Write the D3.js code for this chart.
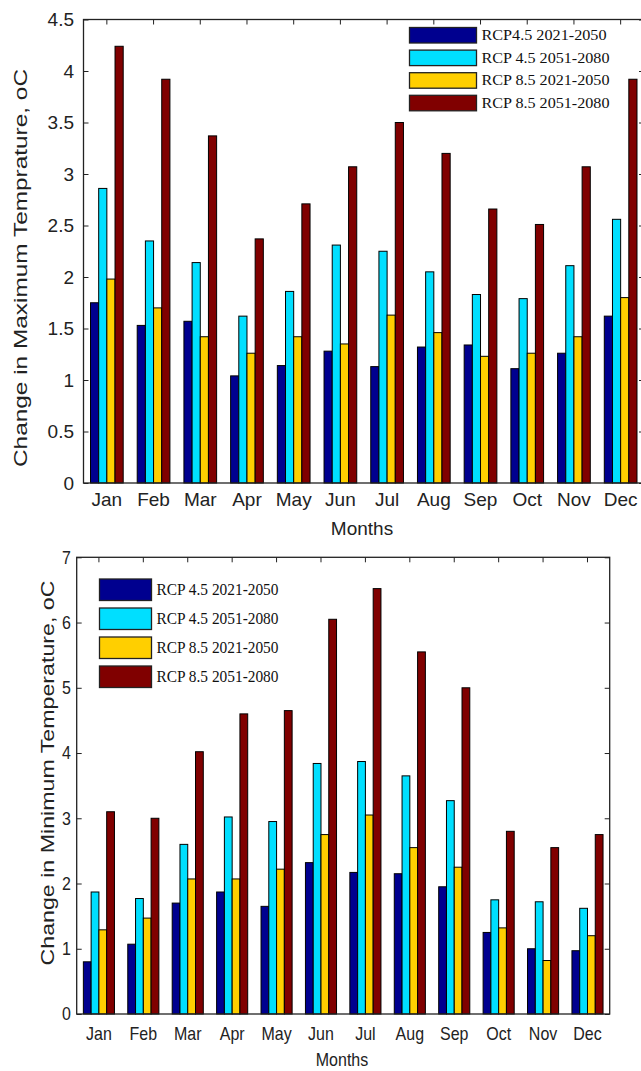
<!DOCTYPE html>
<html>
<head>
<meta charset="utf-8">
<script src="https://cdn.jsdelivr.net/npm/d3@7"></script>
<style>
  body { margin: 0; background: #fff; }
  svg { display: block; }
</style>
</head>
<body>
<div id="chart"></div>
<script>
// Month categories
var months = ["Jan", "Feb", "Mar", "Apr", "May", "Jun", "Jul", "Aug", "Sep", "Oct", "Nov", "Dec"];

// Legend labels (top panel spells the first one without a space)
var maxLegend = ["RCP4.5 2021-2050", "RCP 4.5 2051-2080", "RCP 8.5 2021-2050", "RCP 8.5 2051-2080"];
var minLegend = ["RCP 4.5 2021-2050", "RCP 4.5 2051-2080", "RCP 8.5 2021-2050", "RCP 8.5 2051-2080"];

// Change in maximum temperature (oC)
var maxRcp45Near = [1.75, 1.53, 1.57, 1.04, 1.14, 1.28, 1.13, 1.32, 1.34, 1.11, 1.26, 1.62];
var maxRcp45Far  = [2.86, 2.35, 2.14, 1.62, 1.86, 2.31, 2.25, 2.05, 1.83, 1.79, 2.11, 2.56];
var maxRcp85Near = [1.98, 1.70, 1.42, 1.26, 1.42, 1.35, 1.63, 1.46, 1.23, 1.26, 1.42, 1.80];
var maxRcp85Far  = [4.24, 3.92, 3.37, 2.37, 2.71, 3.07, 3.50, 3.20, 2.66, 2.51, 3.07, 3.92];

// Change in minimum temperature (oC)
var minRcp45Near = [0.80, 1.07, 1.70, 1.87, 1.65, 2.32, 2.17, 2.15, 1.95, 1.25, 1.00, 0.97];
var minRcp45Far  = [1.87, 1.77, 2.60, 3.02, 2.95, 3.84, 3.87, 3.65, 3.27, 1.75, 1.72, 1.62];
var minRcp85Near = [1.29, 1.47, 2.07, 2.07, 2.22, 2.75, 3.05, 2.55, 2.25, 1.32, 0.82, 1.20];
var minRcp85Far  = [3.10, 3.00, 4.02, 4.60, 4.65, 6.05, 6.52, 5.55, 5.00, 2.80, 2.55, 2.75];

// Tick values
var maxTicks = [0, 0.5, 1, 1.5, 2, 2.5, 3, 3.5, 4, 4.5];
var minTicks = [0, 1, 2, 3, 4, 5, 6, 7];

// MATLAB jet style colours for the four series
var colors = ["#00008f", "#00dfff", "#ffcf00", "#800000"];

var svg = d3.select("#chart")
  .append("svg")
  .attr("width", 641)
  .attr("height", 1071);

function drawPanel(p) {
  var g = svg.append("g");

  var xScale = d3.scaleBand().domain(months).range([p.left, p.right]);
  var yScale = d3.scaleLinear().domain([0, p.yMax]).range([p.bottom, p.top]);
  var groupWidth = xScale.bandwidth() * 0.7;
  var inner = d3.scaleBand()
    .domain(d3.range(p.series.length))
    .range([-groupWidth / 2, groupWidth / 2]);

  // Inward ticks on all four sides (drawn under the bars)
  g.append("g")
    .attr("transform", "translate(" + p.left + ",0)")
    .call(d3.axisLeft(yScale).tickValues(p.ticks).tickSizeInner(-5).tickSizeOuter(0)
      .tickPadding(p.yPad).tickFormat(function(d) { return String(d); }))
    .call(function(a) {
      a.select(".domain").remove();
      a.selectAll("line").attr("stroke", "#222");
      a.selectAll("text")
        .attr("font-family", "Liberation Sans, Arial, sans-serif")
        .attr("font-size", p.tickFont)
        .attr("fill", "#222")
        .attr("transform", "scale(1," + p.stretch + ")");
    });

  g.append("g")
    .attr("transform", "translate(" + p.right + ",0)")
    .call(d3.axisRight(yScale).tickValues(p.ticks).tickSizeInner(-5).tickSizeOuter(0)
      .tickFormat(""))
    .call(function(a) {
      a.select(".domain").remove();
      a.selectAll("line").attr("stroke", "#222");
    });

  g.append("g")
    .attr("transform", "translate(0," + p.top + ")")
    .call(d3.axisTop(xScale).tickSizeInner(-5).tickSizeOuter(0).tickFormat(""))
    .call(function(a) {
      a.select(".domain").remove();
      a.selectAll("line").attr("stroke", "#222");
    });

  g.append("g")
    .attr("transform", "translate(0," + p.bottom + ")")
    .call(d3.axisBottom(xScale).tickSizeInner(-5).tickSizeOuter(0).tickPadding(p.xPad))
    .call(function(a) {
      a.select(".domain").remove();
      a.selectAll("line").attr("stroke", "#222");
      a.selectAll("text")
        .attr("font-family", "Liberation Sans, Arial, sans-serif")
        .attr("font-size", p.tickFont)
        .attr("fill", "#222")
        .attr("transform", "scale(1," + p.stretch + ")");
    });

  // Bars
  p.series.forEach(function(values, s) {
    g.append("g")
      .selectAll("rect")
      .data(values)
      .enter()
      .append("rect")
      .attr("x", function(d, i) { return xScale(months[i]) + xScale.bandwidth() / 2 + inner(s); })
      .attr("y", function(d) { return yScale(d); })
      .attr("width", inner.bandwidth())
      .attr("height", function(d) { return yScale(0) - yScale(d); })
      .attr("fill", colors[s])
      .attr("stroke", "#000")
      .attr("stroke-width", 1);
  });

  // Box
  g.append("rect")
    .attr("x", p.left)
    .attr("y", p.top)
    .attr("width", p.right - p.left)
    .attr("height", p.bottom - p.top)
    .attr("fill", "none")
    .attr("stroke", "#222")
    .attr("stroke-width", 1.3);

  // Legend
  var legend = g.append("g");
  p.legend.forEach(function(name, i) {
    var ly = p.legTop + i * p.legStep;
    legend.append("rect")
      .attr("x", p.legX)
      .attr("y", ly)
      .attr("width", p.swW)
      .attr("height", p.swH)
      .attr("fill", colors[i])
      .attr("stroke", "#222")
      .attr("stroke-width", 1.3);
    legend.append("text")
      .attr("x", p.legX + p.swW + 5)
      .attr("y", ly + p.swH / 2)
      .attr("dy", "0.35em")
      .attr("font-family", "Liberation Serif, Times New Roman, serif")
      .attr("font-size", p.legFont)
      .attr("textLength", p.legLen[i])
      .attr("lengthAdjust", "spacingAndGlyphs")
      .attr("fill", "#111")
      .text(name);
  });

  // Axis titles
  g.append("text")
    .attr("transform", "translate(" + p.monthsX + "," + p.monthsY + ") scale(1," + p.stretch + ")")
    .attr("text-anchor", "middle")
    .attr("font-family", "Liberation Sans, Arial, sans-serif")
    .attr("font-size", p.tickFont)
    .attr("fill", "#222")
    .text("Months");

  g.append("text")
    .attr("transform", "translate(" + p.yLabX + "," + p.yLabY + ")rotate(-90)")
    .attr("text-anchor", "middle")
    .attr("font-family", "Liberation Sans, Arial, sans-serif")
    .attr("font-size", p.yLabFont)
    .attr("textLength", p.yLabLen)
    .attr("lengthAdjust", "spacingAndGlyphs")
    .attr("fill", "#222")
    .text(p.yLabel);
}

// Top panel: maximum temperature
drawPanel({
  left: 83.5, right: 644, top: 19.5, bottom: 483,
  yMax: 4.5, ticks: maxTicks,
  series: [maxRcp45Near, maxRcp45Far, maxRcp85Near, maxRcp85Far],
  tickFont: 19, stretch: 1, yPad: 9.5, xPad: 10,
  legend: maxLegend, legX: 409.5, legTop: 27.5, legStep: 22.6, swW: 67, swH: 15.5,
  legFont: 14, legLen: [125, 128, 128, 128],
  monthsX: 362, monthsY: 535,
  yLabel: "Change in Maximum Temprature, oC", yLabX: 27, yLabY: 268, yLabFont: 19, yLabLen: 398
});

// Bottom panel: minimum temperature
drawPanel({
  left: 76.7, right: 609.7, top: 557.3, bottom: 1014,
  yMax: 7, ticks: minTicks,
  series: [minRcp45Near, minRcp45Far, minRcp85Near, minRcp85Far],
  tickFont: 16, stretch: 1.15, yPad: 5.7, xPad: 11.3,
  legend: minLegend, legX: 99.5, legTop: 579, legStep: 29, swW: 52, swH: 21.5,
  legFont: 16, legLen: [122, 122, 122, 122],
  monthsX: 342, monthsY: 1066,
  yLabel: "Change in Minimum Temperature, oC", yLabX: 54, yLabY: 773, yLabFont: 18, yLabLen: 385
});
</script>
</body>
</html>
